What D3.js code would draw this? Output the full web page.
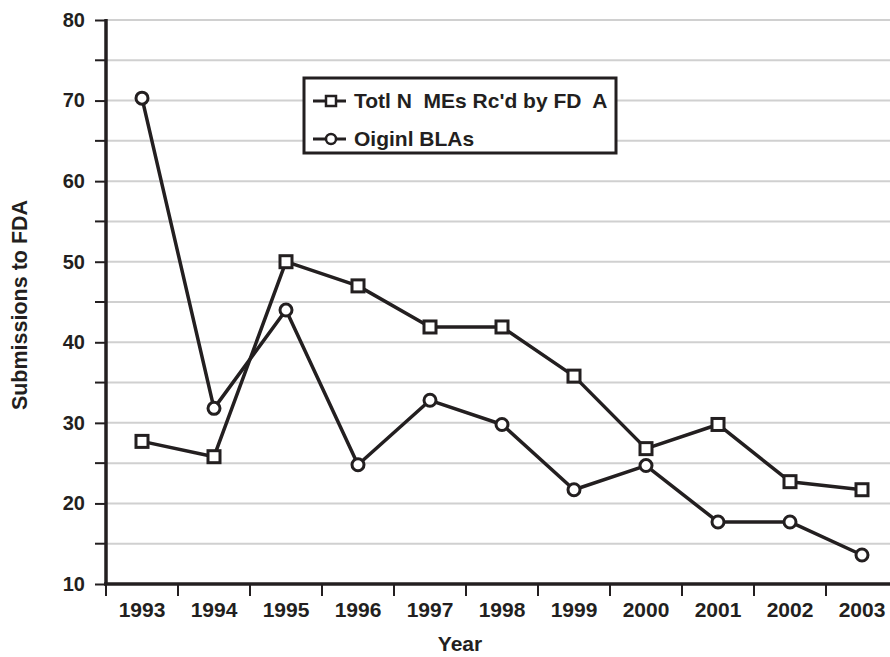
<!DOCTYPE html>
<html><head><meta charset="utf-8">
<script src="https://cdn.jsdelivr.net/npm/d3@7"></script>
<style>body{margin:0;background:#fff}svg{display:block}text{font-family:"Liberation Sans",Arial,Helvetica,sans-serif;font-weight:bold;fill:#231f20}</style>
</head><body><svg id="c" width="890" height="657"></svg>
<script>
const years = ["1993","1994","1995","1996","1997","1998","1999","2000","2001","2002","2003"];
const totalNMEs = [27.7, 25.8, 50.0, 47.0, 41.9, 41.9, 35.8, 26.8, 29.8, 22.7, 21.7];
const originalBLAs = [70.3, 31.8, 44.0, 24.8, 32.8, 29.8, 21.7, 24.7, 17.7, 17.7, 13.6];
const yTicks = [10, 20, 30, 40, 50, 60, 70, 80];
const yMinor = [15, 25, 35, 45, 55, 65, 75];
const legendLabels = ["Totl N  MEs Rc'd by FD  A", "Oiginl BLAs"];

const ink = "#231f20";
const svg = d3.select("#c");
const x = d3.scaleBand().domain(years).range([106, 898]);
const y = d3.scaleLinear().domain([10, 80]).range([584, 20]);

// gridlines
svg.append("g").selectAll("line").data(yTicks.concat(yMinor).filter(v => v > 10))
  .join("line").attr("x1", 106).attr("x2", 890).attr("y1", d => y(d)).attr("y2", d => y(d))
  .attr("stroke", "#d0d0d0").attr("stroke-width", 2);

// y axis
const yAxis = svg.append("g").attr("transform", "translate(106,0)")
  .call(d3.axisLeft(y).tickValues(yTicks).tickSize(11).tickPadding(10));
yAxis.selectAll("text").style("font-size", "20px").attr("fill", ink);
yAxis.selectAll(".tick line").attr("stroke", ink).attr("stroke-width", 2);
yAxis.select(".domain").remove();
svg.append("g").selectAll("line").data(yMinor).join("line")
  .attr("x1", 95).attr("x2", 106).attr("y1", d => y(d)).attr("y2", d => y(d))
  .attr("stroke", ink).attr("stroke-width", 2);

// x axis
const xAxis = svg.append("g").attr("transform", "translate(0,584)")
  .call(d3.axisBottom(x).tickSize(0).tickPadding(18));
xAxis.selectAll("text").style("font-size", "21px").attr("fill", ink);
xAxis.select(".domain").remove();
svg.append("g").selectAll("line").data(years).join("line")
  .attr("x1", d => x(d)).attr("x2", d => x(d)).attr("y1", 584).attr("y2", 596)
  .attr("stroke", ink).attr("stroke-width", 2);

// axis lines
svg.append("line").attr("x1", 106).attr("x2", 106).attr("y1", 19).attr("y2", 585).attr("stroke", ink).attr("stroke-width", 3.5);
svg.append("line").attr("x1", 104).attr("x2", 890).attr("y1", 584).attr("y2", 584).attr("stroke", ink).attr("stroke-width", 3.5);

// titles
svg.append("text").attr("x", 460).attr("y", 651).attr("text-anchor", "middle").style("font-size", "21px").text("Year");
svg.append("text").attr("transform", "translate(27,305) rotate(-90)").attr("text-anchor", "middle").style("font-size", "21.5px").text("Submissions to FDA");

// lines
const cx = d => x(d) + x.bandwidth() / 2;
const line = d3.line().x(d => cx(d.year)).y(d => y(d.v));
const s1 = years.map((yr, i) => ({year: yr, v: totalNMEs[i]}));
const s2 = years.map((yr, i) => ({year: yr, v: originalBLAs[i]}));
svg.append("path").datum(s2).attr("d", line).attr("fill", "none").attr("stroke", ink).attr("stroke-width", 3.5).attr("stroke-linejoin", "round");
svg.append("path").datum(s1).attr("d", line).attr("fill", "none").attr("stroke", ink).attr("stroke-width", 3.5).attr("stroke-linejoin", "round");
svg.append("g").selectAll("circle").data(s2).join("circle")
  .attr("cx", d => cx(d.year)).attr("cy", d => y(d.v)).attr("r", 6)
  .attr("fill", "#fff").attr("stroke", ink).attr("stroke-width", 3);
svg.append("g").selectAll("rect").data(s1).join("rect")
  .attr("x", d => cx(d.year) - 6).attr("y", d => y(d.v) - 6).attr("width", 12).attr("height", 12)
  .attr("fill", "#fff").attr("stroke", ink).attr("stroke-width", 3);

// legend
const lg = svg.append("g");
lg.append("rect").attr("x", 304).attr("y", 78).attr("width", 312).attr("height", 75)
  .attr("fill", "#fff").attr("stroke", ink).attr("stroke-width", 3);
const ly = [101, 139];
legendLabels.forEach((t, i) => {
  lg.append("line").attr("x1", 313).attr("x2", 346).attr("y1", ly[i]).attr("y2", ly[i]).attr("stroke", ink).attr("stroke-width", 3);
  if (i === 0) lg.append("rect").attr("x", 326).attr("y", ly[i] - 5).attr("width", 10).attr("height", 10).attr("fill", "#fff").attr("stroke", ink).attr("stroke-width", 2.5);
  else lg.append("circle").attr("cx", 331).attr("cy", ly[i]).attr("r", 5).attr("fill", "#fff").attr("stroke", ink).attr("stroke-width", 2.5);
  lg.append("text").attr("x", 354).attr("y", ly[i] + 7).style("font-size", "21px").style("white-space", "pre").text(t);
});
</script></body></html>
